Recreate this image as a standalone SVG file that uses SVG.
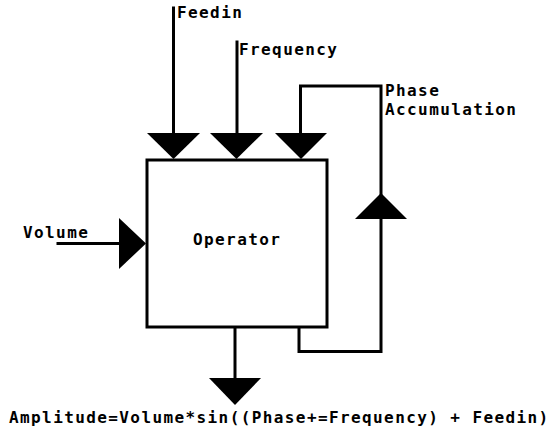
<svg xmlns="http://www.w3.org/2000/svg" width="553" height="431" viewBox="0 0 553 431">
<style>
.ln{fill:none;stroke:#000;stroke-width:3;stroke-linecap:square}
.ah{fill:#000;stroke:none}
.t{font-family:"DejaVu Sans Mono","Liberation Mono",monospace;font-weight:bold;font-size:16px;letter-spacing:1.4px;fill:#000}
</style>
<rect width="553" height="431" fill="#fff"/>
<g id="connectors">
<line class="ln" x1="173.5" y1="8" x2="173.5" y2="140"/>
<polygon class="ah" points="147,133 200,133 173.5,159"/>
<line class="ln" x1="237" y1="42" x2="237" y2="140"/>
<polygon class="ah" points="210,133 263,133 236.5,159"/>
<polyline class="ln" points="300.5,140 300.5,86 381,86 381,351.5 299,351.5 299,327"/>
<polygon class="ah" points="275,133 327,133 301,159"/>
<polygon class="ah" points="355,219 407,219 381,193"/>
<line class="ln" x1="58" y1="243.5" x2="125" y2="243.5"/>
<polygon class="ah" points="119,218 119,269 146,243.5"/>
<line class="ln" x1="235" y1="327" x2="235" y2="385"/>
<polygon class="ah" points="209,378 261,378 235,405"/>
</g>
<g id="operator">
<rect x="147" y="160" width="180" height="167" fill="#fff" stroke="#000" stroke-width="3"/>
<text class="t" x="193" y="245">Operator</text>
</g>
<g id="feedin"><text class="t" x="177" y="18">Feedin</text></g>
<g id="frequency"><text class="t" x="239" y="55">Frequency</text></g>
<g id="phase"><text class="t" x="385" y="95.5">Phase</text><text class="t" x="385" y="114.5">Accumulation</text></g>
<g id="volume"><text class="t" x="23" y="238">Volume</text></g>
<g id="amplitude"><text class="t" x="9" y="423">Amplitude=Volume*sin((Phase+=Frequency) + Feedin)</text></g>
</svg>
